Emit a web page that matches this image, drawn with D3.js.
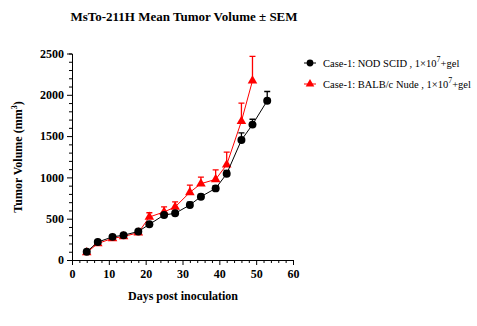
<!DOCTYPE html>
<html>
<head>
<meta charset="utf-8">
<script src="https://cdn.jsdelivr.net/npm/d3@7"></script>
<style>
  body { margin: 0; background: #fff; }
  svg text { font-family: "Liberation Serif", "Times New Roman", serif !important; }
</style>
</head>
<body>
<script>
// values
var daysNod = [4, 7, 11, 14, 18, 21, 25, 28, 32, 35, 39, 42, 46, 49, 53];
var meanNod = [100, 217, 280, 300, 345, 432, 545, 565, 666, 767, 867, 1044, 1452, 1639, 1928];
var semNod = [12, 15, 18, 20, 18, 22, 18, 18, 33, 28, 33, 40, 88, 65, 112];

var daysNude = [4, 7, 11, 14, 18, 21, 25, 28, 32, 35, 39, 42, 46, 49];
var meanNude = [90, 200, 262, 285, 330, 520, 582, 642, 819, 924, 976, 1153, 1680, 2170];
var semNude = [15, 20, 25, 35, 20, 52, 60, 61, 88, 80, 116, 152, 220, 295];

var xTicks = [0, 10, 20, 30, 40, 50, 60];
var yTicks = [0, 500, 1000, 1500, 2000, 2500];

var width = 477, height = 326;

var svg = d3.select("body").append("svg")
  .attr("width", width)
  .attr("height", height);

var x = d3.scaleLinear().domain([0, 60]).range([72, 293]);
var y = d3.scaleLinear().domain([0, 2500]).range([260, 53.5]);

// title
svg.append("text")
  .attr("x", 184).attr("y", 21)
  .attr("text-anchor", "middle")
  .attr("font-size", 13).attr("font-weight", "bold")
  .text("MsTo-211H Mean Tumor Volume \u00B1 SEM");

// axes
var xAxis = svg.append("g").attr("transform", "translate(0,260)");
xAxis.call(d3.axisBottom(x).tickValues(d3.range(0, 61, 2)).tickSize(3).tickFormat(""));
xAxis.call(g => g.selectAll(".tick").filter(d => d % 10 === 0).select("line").attr("y2", 5));
var xLab = svg.append("g").attr("transform", "translate(0,260)")
  .call(d3.axisBottom(x).tickValues(xTicks).tickSize(0).tickPadding(9));
xLab.select(".domain").remove();

var yAxis = svg.append("g").attr("transform", "translate(72,0)");
yAxis.call(d3.axisLeft(y).tickValues(d3.range(0, 2501, 100)).tickSize(3).tickFormat(""));
yAxis.call(g => g.selectAll(".tick").filter(d => d % 500 === 0).select("line").attr("x2", -5));
var yLab = svg.append("g").attr("transform", "translate(72,0)")
  .call(d3.axisLeft(y).tickValues(yTicks).tickSize(0).tickPadding(8).tickFormat(d3.format("d")));
yLab.select(".domain").remove();

svg.selectAll(".domain, .tick line").attr("stroke", "#000").attr("stroke-width", 1);
svg.selectAll(".tick text")
  .attr("font-size", 12).attr("font-weight", "bold").attr("fill", "#000");

// axis titles
svg.append("text")
  .attr("x", 183).attr("y", 300)
  .attr("text-anchor", "middle")
  .attr("font-size", 12).attr("font-weight", "bold")
  .text("Days post inoculation");

var yt = svg.append("text")
  .attr("transform", "translate(22,157) rotate(-90)")
  .attr("text-anchor", "middle")
  .attr("font-size", 12).attr("font-weight", "bold");
yt.append("tspan").text("Tumor Volume (mm");
yt.append("tspan").attr("font-size", 8).attr("dy", -5).text("3");
yt.append("tspan").attr("dy", 5).text(")");

function drawSeries(days, mean, sem, color, shape) {
  var pts = days.map((d, i) => ({ d: d, m: mean[i], s: sem[i] }));
  var g = svg.append("g");
  g.append("path")
    .datum(pts)
    .attr("fill", "none").attr("stroke", color).attr("stroke-width", 1)
    .attr("d", d3.line().x(p => x(p.d)).y(p => y(p.m)));
  g.selectAll(".eb").data(pts).enter().append("path")
    .attr("stroke", color).attr("stroke-width", 1.3).attr("fill", "none")
    .attr("d", p => "M" + x(p.d) + "," + y(p.m) + "V" + y(p.m + p.s) +
      "M" + (x(p.d) - 3) + "," + y(p.m + p.s) + "H" + (x(p.d) + 3));
  g.selectAll(".mk").data(pts).enter().append("path")
    .attr("fill", color)
    .attr("transform", p => "translate(" + x(p.d) + "," + y(p.m) + ")")
    .attr("d", d3.symbol().type(shape).size(shape === d3.symbolCircle ? 50 : 40));
}

drawSeries(daysNude, meanNude, semNude, "#ff0000", d3.symbolTriangle);
drawSeries(daysNod, meanNod, semNod, "#000000", d3.symbolCircle);

// legend
var legend = [
  { label: "Case-1: NOD SCID , 1\u00D710", color: "#000000", shape: d3.symbolCircle },
  { label: "Case-1: BALB/c Nude , 1\u00D710", color: "#ff0000", shape: d3.symbolTriangle }
];
legend.forEach(function (l, i) {
  var ly = 63 + i * 21;
  svg.append("line").attr("x1", 304).attr("x2", 316).attr("y1", ly).attr("y2", ly)
    .attr("stroke", l.color).attr("stroke-width", 1);
  svg.append("path").attr("fill", l.color)
    .attr("transform", "translate(310," + ly + ")")
    .attr("d", d3.symbol().type(l.shape).size(l.shape === d3.symbolCircle ? 36 : 32));
  var t = svg.append("text").attr("x", 323).attr("y", ly + 4).attr("font-size", 10.5);
  t.append("tspan").text(l.label);
  t.append("tspan").attr("font-size", 8).attr("dy", -5).text("7");
  t.append("tspan").attr("dy", 5).text("+gel");
});
</script>
</body>
</html>
